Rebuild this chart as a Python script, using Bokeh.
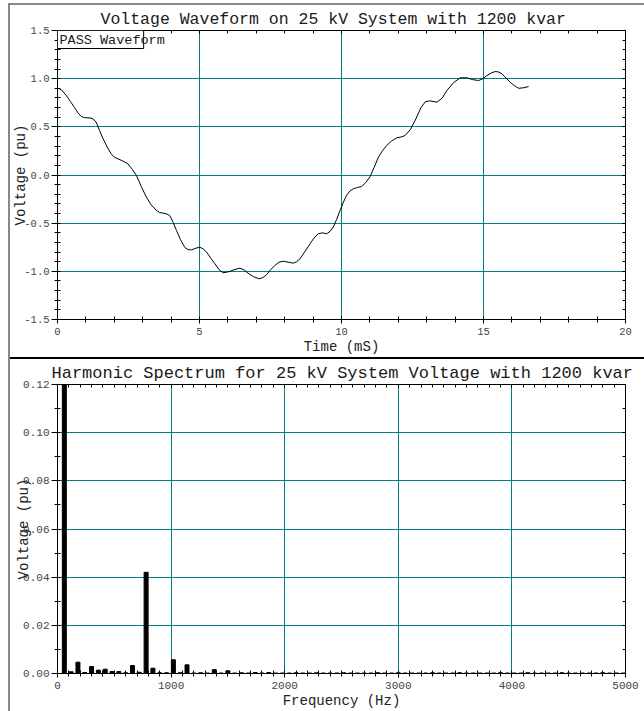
from bokeh.plotting import figure
from bokeh.models import (Range1d, LinearAxis, SingleIntervalTicker, Label, BoxAnnotation, Div,
                          PrintfTickFormatter, CustomLabelingPolicy)
from bokeh.layouts import column
from bokeh.embed import file_html
from bokeh.resources import INLINE

FONT = "Liberation Mono"
TEAL = "#008080"

# ---- data: voltage waveform (one cycle) ----
time_ms = [0.0, 0.15, 0.31, 0.45, 0.6, 0.72, 0.84, 0.95, 1.07, 1.18, 1.25, 1.36, 1.48, 1.6,
           1.75, 1.89, 2.0, 2.13, 2.3, 2.48, 2.63, 2.78, 2.95, 3.13, 3.3, 3.48, 3.6, 3.72,
           3.85, 3.95, 4.07, 4.19, 4.33, 4.48, 4.6, 4.72, 4.87, 5.01, 5.12, 5.25, 5.4, 5.54,
           5.68, 5.83, 5.95, 6.07, 6.25, 6.42, 6.57, 6.71, 6.9, 7.10, 7.23, 7.36, 7.5, 7.65,
           7.8, 7.95, 8.12, 8.30, 8.42, 8.54, 8.7, 8.89, 9.03, 9.18, 9.33, 9.48, 9.6, 9.71,
           9.83, 9.95, 10.07, 10.18, 10.3, 10.42, 10.56, 10.71, 10.85, 11.0, 11.15, 11.3,
           11.45, 11.59, 11.77, 11.95, 12.1, 12.24, 12.42, 12.6, 12.8, 12.95, 13.1, 13.36,
           13.55, 13.71, 13.95, 14.18, 14.42, 14.62, 14.83, 14.98, 15.12, 15.28, 15.41,
           15.53, 15.65, 15.8, 15.94, 16.1, 16.24, 16.4, 16.59]
voltage_pu = [0.905, 0.88, 0.825, 0.765, 0.70, 0.645, 0.607, 0.595, 0.594, 0.59, 0.583, 0.55,
              0.462, 0.38, 0.29, 0.22, 0.185, 0.168, 0.145, 0.116, 0.06, -0.005, -0.12, -0.23,
              -0.31, -0.368, -0.39, -0.396, -0.405, -0.42, -0.49, -0.576, -0.67, -0.75, -0.775,
              -0.777, -0.76, -0.75, -0.765, -0.80, -0.865, -0.92, -0.98, -1.015, -1.01, -1.00,
              -0.98, -0.967, -0.985, -1.02, -1.055, -1.078, -1.065, -1.036, -0.985, -0.94,
              -0.905, -0.895, -0.905, -0.915, -0.90, -0.87, -0.80, -0.715, -0.655, -0.61,
              -0.60, -0.61, -0.585, -0.54, -0.46, -0.368, -0.28, -0.21, -0.165, -0.143, -0.13,
              -0.12, -0.08, -0.02, 0.08, 0.185, 0.255, 0.306, 0.355, 0.386, 0.395, 0.41, 0.47,
              0.57, 0.70, 0.76, 0.77, 0.756, 0.80, 0.877, 0.96, 1.009, 1.009, 0.99, 0.981,
              1.0, 1.033, 1.06, 1.074, 1.07, 1.05, 1.005, 0.963, 0.925, 0.90, 0.905, 0.918]

# ---- data: harmonic spectrum ----
fundamental_hz = 60
harmonic_order = list(range(1, 84))
spectrum_pu = [1.0, 0.0007, 0.0047, 0.0004, 0.0029, 0.0014, 0.0018, 0.0008, 0.0008, 0.0003,
               0.0033, 0.0005, 0.042, 0.0022, 0.0003, 0.0003, 0.0057, 0.0003, 0.0036, 0.0002,
               0.0003, 0.0002, 0.0016, 0.0002, 0.0011, 0.0002, 0.0003, 0.0002, 0.0004, 0.0002,
               0.0004, 0.0002, 0.0002, 0.0002, 0.0003, 0.0002, 0.0002, 0.0003, 0.0002, 0.0002,
               0.0002, 0.0003, 0.0002, 0.0002, 0.0002, 0.0002, 0.0003, 0.0002, 0.0002, 0.0003,
               0.0002, 0.0002, 0.0002, 0.0002, 0.0003, 0.0002, 0.0002, 0.0002, 0.0003, 0.0002,
               0.0002, 0.0002, 0.0002, 0.0002, 0.0003, 0.0002, 0.0002, 0.0002, 0.0003, 0.0002,
               0.0002, 0.0002, 0.0002, 0.0003, 0.0002, 0.0002, 0.0002, 0.0002, 0.0002, 0.0003,
               0.0002, 0.0002, 0.0002]
freq_hz = [n * fundamental_hz for n in harmonic_order]

top_title = "Voltage Waveform on 25 kV System with 1200 kvar"
bottom_title = "Harmonic Spectrum for 25 kV System Voltage with 1200 kvar"


def make_fig(height, xr, yr, border_left, title, title_size, title_offset, label_size,
             yfmt, ylabel_standoff):
    p = figure(width=634, height=height, x_range=xr, y_range=yr,
               output_backend="svg", toolbar_location=None,
               min_border_left=border_left, min_border_right=19,
               min_border_top=25, min_border_bottom=38,
               background_fill_color="white", border_fill_color="white")
    p.outline_line_color = "black"
    p.title.text = title
    p.title.text_font = FONT
    p.title.text_font_size = title_size
    p.title.text_font_style = "normal"
    p.title.text_color = "#1a1a1a"
    p.title.align = "left"
    p.title.offset = title_offset
    p.title.standoff = 4
    p.grid.grid_line_color = TEAL
    p.grid.grid_line_width = 1
    for ax in (p.xaxis[0], p.yaxis[0]):
        ax.axis_line_color = "black"
        ax.major_tick_line_color = "black"
        ax.minor_tick_line_color = "black"
        ax.major_label_text_font = FONT
        ax.major_label_text_font_size = label_size
        ax.major_label_text_color = "#444444"
        ax.axis_label_text_font = FONT
        ax.axis_label_text_font_size = "14px"
        ax.axis_label_text_font_style = "normal"
        ax.axis_label_text_color = "#222222"
        ax.major_tick_in = 0
        ax.minor_tick_in = 3
        ax.minor_tick_out = 3
    p.xaxis.axis_label_standoff = 1
    p.yaxis.axis_label_standoff = ylabel_standoff
    p.xaxis.major_tick_out = 4
    p.xaxis.major_label_standoff = 4
    p.yaxis.major_tick_out = 6
    p.yaxis.major_label_standoff = 2
    p.yaxis.formatter = PrintfTickFormatter(format=yfmt)
    return p


def add_frame_axes(p, xticker, yticker):
    for loc, tk in (("above", xticker), ("right", yticker)):
        ax = LinearAxis(ticker=tk,
                        major_label_policy=CustomLabelingPolicy(code="return new Set()"),
                        major_label_text_font_size="0px",
                        major_label_standoff=0, major_tick_in=3, major_tick_out=0,
                        minor_tick_in=3, minor_tick_out=0,
                        axis_line_color="black", major_tick_line_color="black",
                        minor_tick_line_color="black")
        p.add_layout(ax, loc)


# ---- top: waveform ----
p1 = make_fig(352, Range1d(0, 20), Range1d(-1.5, 1.5), 47, top_title, "16.5px", 43, "10.5px",
              "%.1f", -8)
xt1 = SingleIntervalTicker(interval=5, num_minor_ticks=5)
yt1 = SingleIntervalTicker(interval=0.5, num_minor_ticks=5)
p1.xaxis.ticker = xt1
p1.yaxis.ticker = yt1
p1.xgrid.ticker = xt1
p1.ygrid.ticker = yt1
p1.xaxis.axis_label = "Time (mS)"
p1.yaxis.axis_label = "Voltage (pu)"
add_frame_axes(p1, SingleIntervalTicker(interval=5, num_minor_ticks=5),
               SingleIntervalTicker(interval=0.5, num_minor_ticks=5))
p1.line(time_ms, voltage_pu, line_color="black", line_width=1)

box_w_ms = 86 / 28.35
box_h_pu = 18 / 96.33
p1.add_layout(BoxAnnotation(left=0, right=box_w_ms, top=1.5, bottom=1.5 - box_h_pu,
                            fill_color="white", fill_alpha=1.0,
                            line_color="black", line_alpha=1.0, line_width=1))
p1.add_layout(Label(x=0, y=1.5, x_offset=2, y_offset=-2, text="PASS Waveform",
                    text_font=FONT, text_font_size="13.5px", text_baseline="top",
                    text_color="#1a1a1a"))

# ---- bottom: spectrum ----
p2 = make_fig(352, Range1d(0, 5000), Range1d(0, 0.12), 46, bottom_title, "17px", -6, "11px",
              "%.2f", -12)
xt2 = SingleIntervalTicker(interval=1000, num_minor_ticks=10)
yt2 = SingleIntervalTicker(interval=0.02, num_minor_ticks=2)
p2.xaxis.ticker = xt2
p2.yaxis.ticker = yt2
p2.xgrid.ticker = xt2
p2.ygrid.ticker = yt2
p2.xaxis.axis_label = "Frequency (Hz)"
p2.yaxis.axis_label = "Voltage (pu)"
add_frame_axes(p2, SingleIntervalTicker(interval=1000, num_minor_ticks=10),
               SingleIntervalTicker(interval=0.02, num_minor_ticks=2))
p2.vbar(x=freq_hz, top=spectrum_pu, bottom=0, width=35, fill_color="black", line_color="black")

sep = Div(width=634, height=2, margin=0, styles={"background-color": "#000000"})

root = column(p1, sep, p2, spacing=0,
              styles={"margin-left": "8px", "margin-top": "3px",
                      "border-left": "2px solid #888888",
                      "border-top": "2px solid #888888"})

open("out.html", "w").write(file_html(root, INLINE))
